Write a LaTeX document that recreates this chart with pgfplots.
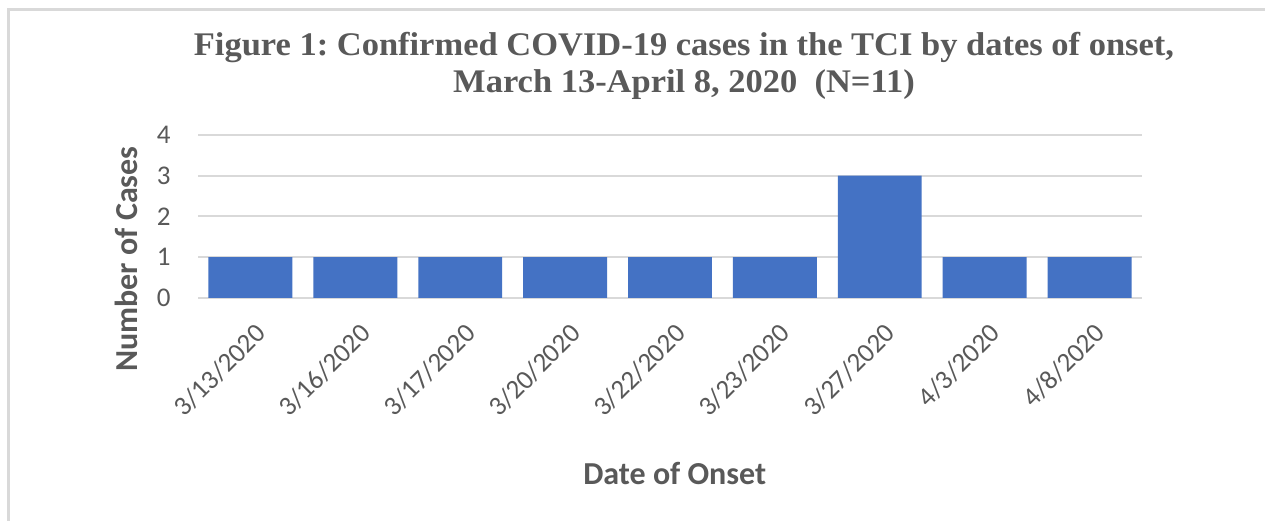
\documentclass[border=0pt]{standalone}
\usepackage{fontspec}
\setmainfont{Carlito}
\newfontfamily\titlefont[FakeStretch=1.045]{Liberation Serif}
\usepackage{pgfplots}
\pgfplotsset{compat=1.18}
\definecolor{barblue}{HTML}{4472C4}
\definecolor{txt}{HTML}{595959}
\definecolor{gridc}{HTML}{D9D9D9}
\frenchspacing
\begin{document}
\begin{tikzpicture}[x=1pt,y=1pt]
\path[use as bounding box] (0,0) rectangle (1265,521);
\fill[white] (0,0) rectangle (1265,521);
\draw[gridc, line width=3pt] (8,0) -- (8,511) -- (1265,511);
\begin{axis}[
  at={(198pt,223pt)}, anchor=south west,
  scale only axis, width=944pt, height=163pt,
  xmin=-0.5, xmax=8.5, ymin=0, ymax=4,
  ytick={0,1,2,3,4},
  xtick=data,
  xticklabels={3/13/2020,3/16/2020,3/17/2020,3/20/2020,3/22/2020,3/23/2020,3/27/2020,4/3/2020,4/8/2020},
  ymajorgrids,
  grid style={gridc, line width=2pt},
  axis line style={draw=none},
  major tick length=0pt,
  ybar, bar width=0.8,
  tick label style={font=\fontsize{27}{27}\selectfont, text=txt},
  yticklabel style={xshift=-24pt},
  xticklabel style={xshift=3.5pt, yshift=-19pt, rotate=45, anchor=north east},
  /pgf/number format/assume math mode=true,
  xlabel={Date of Onset},
  ylabel={Number of Cases},
  every axis x label/.style={at={(rel axis cs:0.505,-1.147)}, anchor=base, font=\bfseries\fontsize{32}{32}\selectfont, text=txt},
  every axis y label/.style={at={(rel axis cs:-0.0646,0.239)}, anchor=base, rotate=90, font=\bfseries\fontsize{32}{32}\selectfont, text=txt},
  clip=false,
]
\addplot[fill=barblue, draw=none] coordinates {(0,1) (1,1) (2,1) (3,1) (4,1) (5,1) (6,3) (7,1) (8,1)};
\node[anchor=base, font=\titlefont\bfseries\fontsize{33}{33}\selectfont, text=txt, inner sep=0pt] at (rel axis cs:0.5148,1.4847) {Figure 1: Confirmed COVID-19 cases in the TCI by dates of onset,};
\node[anchor=base, font=\titlefont\bfseries\fontsize{33}{33}\selectfont, text=txt, inner sep=0pt] at (rel axis cs:0.5148,1.2577) {March 13-April 8, 2020~ (N=11)};
\end{axis}
\end{tikzpicture}
\end{document}
